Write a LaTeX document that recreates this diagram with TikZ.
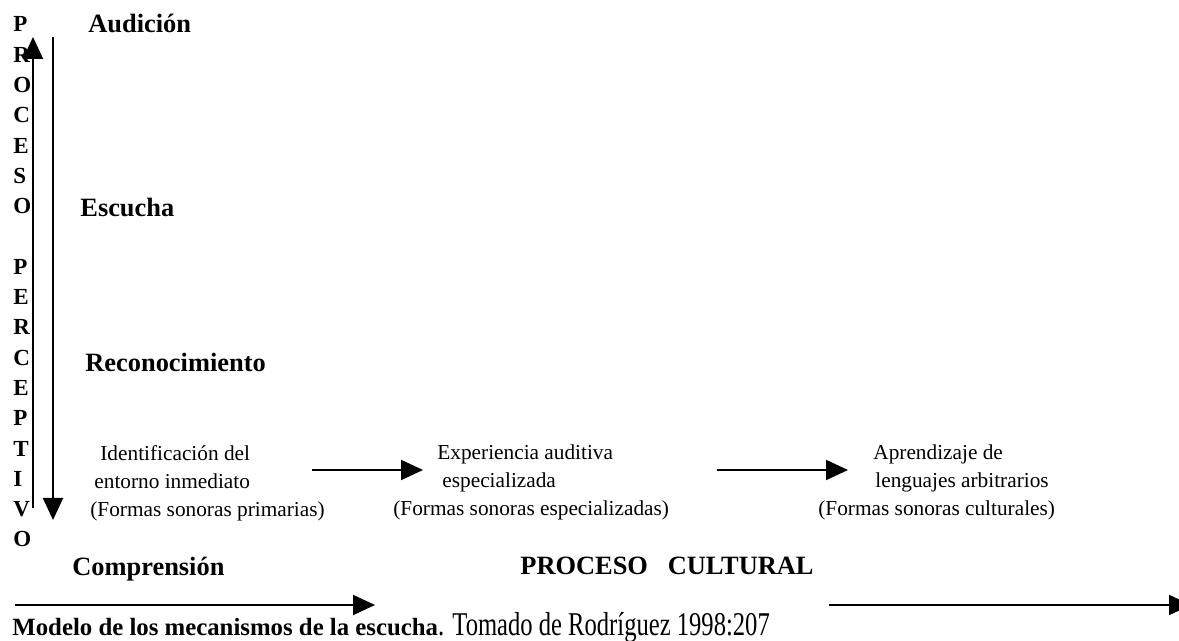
\documentclass[tikz,border=0pt]{standalone}
\usepackage{fontspec}
\setmainfont{Liberation Serif}
\usepackage{graphicx}
\usetikzlibrary{arrows.meta, positioning}

\begin{document}
\begin{tikzpicture}[x=0.5pt, y=-0.5pt,
        lbl/.style = {inner sep=0pt, anchor=base west, font=\fontsize{13.2}{15}\selectfont\bfseries},
        txt/.style = {inner sep=0pt, anchor=base west, align=left, font=\fontsize{10.65}{14.15}\selectfont},
        arr/.style = {line width=1pt, -{Triangle[length=11pt, width=10pt]}} ]
      \useasboundingbox (0,0) rectangle (1179,641);
      % eje vertical
      \node[inner sep=0pt, anchor=base west, align=left, font=\fontsize{11.5}{15.15}\selectfont\bfseries] (perc) at (13,547)
        {P\\R\\O\\C\\E\\S\\O\\\mbox{}\\P\\E\\R\\C\\E\\P\\T\\I\\V\\O};
      \coordinate (upS) at (33,508);
      \coordinate (upE) at (33,37);
      \coordinate (dnS) at (53,37);
      \coordinate (dnE) at (53,520);
      \draw[arr] (upS) -- (upE);
      \draw[arr] (dnS) -- (dnE);
      \node[lbl] (aud) at (88,33) {Audición};
      \node[lbl] (esc) at (80,217) {Escucha};
      \node[lbl] (rec) at (85,372) {Reconocimiento};
      \node[lbl] (comp) at (72,576) {Comprensión};
      \node[lbl] (cult) at (520,575) {PROCESO\ \ \ CULTURAL};
      % formas sonoras
      \node[txt] (ident) at (90,517) {\hspace*{5pt}Identificación del\\\hspace*{2pt}entorno inmediato\\(Formas sonoras primarias)};
      \node[txt] (exper) at (393,516) {\hspace*{22pt}Experiencia auditiva\\\hspace*{24.5pt}especializada\\(Formas sonoras especializadas)};
      \node[txt] (apren) at (818,516) {\hspace*{27.5pt}Aprendizaje de\\\hspace*{28.5pt}lenguajes arbitrarios\\(Formas sonoras culturales)};
      \coordinate (h1S) at (312,470);
      \coordinate (h1E) at (423,470);
      \coordinate (h2S) at (717,470);
      \coordinate (h2E) at (848,470);
      \draw[arr] (h1S) -- (h1E);
      \draw[arr] (h2S) -- (h2E);
      % flechas inferiores
      \coordinate (b1S) at (15,605);
      \coordinate (b1E) at (375,605);
      \coordinate (b2S) at (829,605);
      \coordinate (b2E) at (1191,605);
      \draw[arr] (b1S) -- (b1E);
      \draw[arr] (b2S) -- (b2E);
      \node[inner sep=0pt, anchor=base west, font=\fontsize{12.4}{14}\selectfont] (capt) at (12,636)
        {\textbf{Modelo de los mecanismos de la escucha}\scalebox{1}[1.35]{\fontsize{12.3}{14}\selectfont. Tomado de Rodríguez 1998:207}};
    \end{tikzpicture}
\end{document}
